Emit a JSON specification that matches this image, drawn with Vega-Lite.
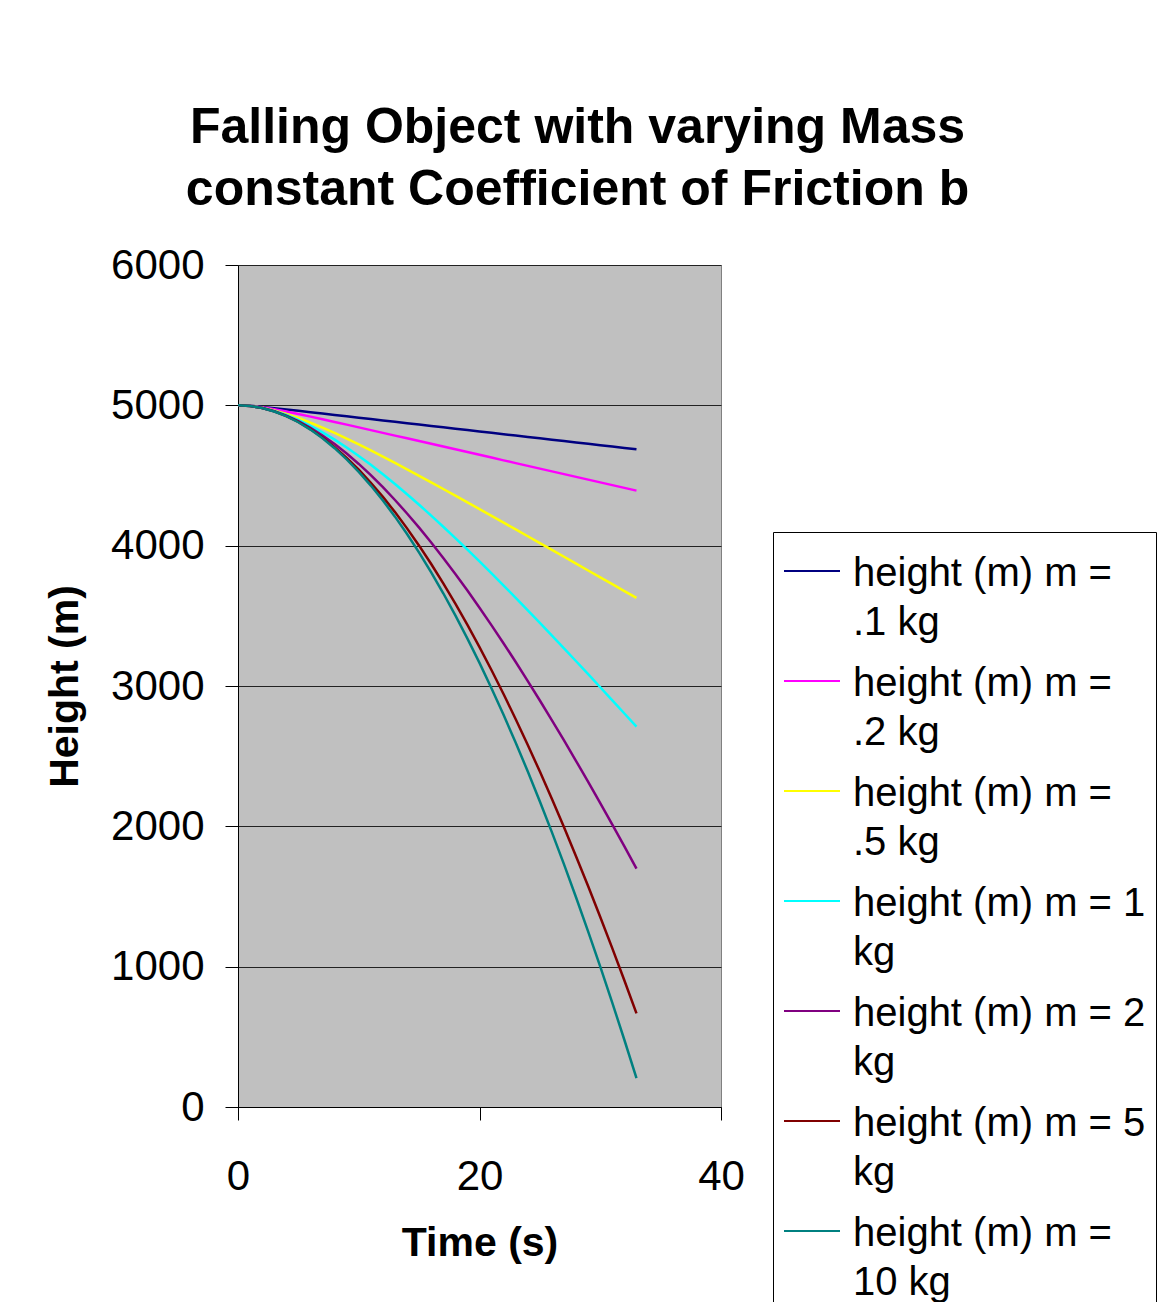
{
  "$schema": "https://vega.github.io/schema/vega-lite/v6.json",
  "width": 483,
  "height": 842,
  "autosize": {"type": "none"},
  "padding": {"left": 238, "top": 265, "right": 441, "bottom": 195},
  "background": "white",
  "title": {
    "text": ["Falling Object with varying Mass", "constant Coefficient of Friction b"],
    "font": "Liberation Sans",
    "fontSize": 50,
    "fontWeight": "bold",
    "lineHeight": 62,
    "color": "#000000",
    "anchor": "middle",
    "dx": 98,
    "offset": 29
  },
  "data": {
    "values": [
      {"t": 0, "m01": 5000, "m02": 5000, "m05": 5000, "m1": 5000, "m2": 5000, "m5": 5000, "m10": 5000},
      {"t": 1, "m01": 4996.4, "m02": 4995.8, "m05": 4995.4, "m1": 4995.3, "m2": 4995.2, "m5": 4995.1, "m10": 4995.1},
      {"t": 2, "m01": 4988.9, "m02": 4985.6, "m05": 4982.8, "m1": 4981.6, "m2": 4981.0, "m5": 4980.7, "m10": 4980.5},
      {"t": 3, "m01": 4979.9, "m02": 4971.7, "m05": 4963.5, "m1": 4960.0, "m2": 4958.0, "m5": 4956.8, "m10": 4956.3},
      {"t": 4, "m01": 4970.4, "m02": 4955.5, "m05": 4938.9, "m1": 4931.1, "m2": 4926.6, "m5": 4923.6, "m10": 4922.6},
      {"t": 5, "m01": 4960.7, "m02": 4938.0, "m05": 4909.9, "m1": 4895.6, "m2": 4887.1, "m5": 4881.5, "m10": 4879.5},
      {"t": 6, "m01": 4951.0, "m02": 4919.6, "m05": 4877.2, "m1": 4854.2, "m2": 4840.0, "m5": 4830.4, "m10": 4827.1},
      {"t": 7, "m01": 4941.2, "m02": 4900.8, "m05": 4841.6, "m1": 4807.3, "m2": 4785.6, "m5": 4770.7, "m10": 4765.4},
      {"t": 8, "m01": 4931.4, "m02": 4881.7, "m05": 4803.5, "m1": 4755.7, "m2": 4724.3, "m5": 4702.5, "m10": 4694.6},
      {"t": 9, "m01": 4921.6, "m02": 4862.4, "m05": 4763.5, "m1": 4699.6, "m2": 4656.5, "m5": 4625.9, "m10": 4614.7},
      {"t": 10, "m01": 4911.8, "m02": 4842.9, "m05": 4721.8, "m1": 4639.5, "m2": 4582.4, "m5": 4541.1, "m10": 4526.0},
      {"t": 11, "m01": 4902.0, "m02": 4823.4, "m05": 4678.9, "m1": 4575.8, "m2": 4502.4, "m5": 4448.3, "m10": 4428.3},
      {"t": 12, "m01": 4892.2, "m02": 4803.9, "m05": 4634.8, "m1": 4508.8, "m2": 4416.7, "m5": 4347.6, "m10": 4321.8},
      {"t": 13, "m01": 4882.4, "m02": 4784.3, "m05": 4589.8, "m1": 4438.9, "m2": 4325.6, "m5": 4239.2, "m10": 4206.7},
      {"t": 14, "m01": 4872.6, "m02": 4764.8, "m05": 4544.1, "m1": 4366.3, "m2": 4229.4, "m5": 4123.3, "m10": 4082.9},
      {"t": 15, "m01": 4862.8, "m02": 4745.2, "m05": 4497.8, "m1": 4291.3, "m2": 4128.3, "m5": 4000.0, "m10": 3950.6},
      {"t": 16, "m01": 4853.0, "m02": 4725.6, "m05": 4451.0, "m1": 4214.1, "m2": 4022.6, "m5": 3869.4, "m10": 3809.9},
      {"t": 17, "m01": 4843.2, "m02": 4706.0, "m05": 4403.8, "m1": 4135.0, "m2": 3912.5, "m5": 3731.6, "m10": 3660.8},
      {"t": 18, "m01": 4833.4, "m02": 4686.4, "m05": 4356.3, "m1": 4054.0, "m2": 3798.3, "m5": 3586.9, "m10": 3503.5},
      {"t": 19, "m01": 4823.6, "m02": 4666.8, "m05": 4308.5, "m1": 3971.4, "m2": 3680.0, "m5": 3435.4, "m10": 3338.0},
      {"t": 20, "m01": 4813.8, "m02": 4647.2, "m05": 4260.5, "m1": 3887.4, "m2": 3557.9, "m5": 3277.2, "m10": 3164.4},
      {"t": 21, "m01": 4804.0, "m02": 4627.6, "m05": 4212.3, "m1": 3802.0, "m2": 3432.2, "m5": 3112.4, "m10": 2982.8},
      {"t": 22, "m01": 4794.2, "m02": 4608.0, "m05": 4164.0, "m1": 3715.4, "m2": 3303.2, "m5": 2941.1, "m10": 2793.1},
      {"t": 23, "m01": 4784.4, "m02": 4588.4, "m05": 4115.5, "m1": 3627.7, "m2": 3170.8, "m5": 2763.5, "m10": 2595.7},
      {"t": 24, "m01": 4774.6, "m02": 4568.8, "m05": 4067.0, "m1": 3539.1, "m2": 3035.3, "m5": 2579.8, "m10": 2390.5},
      {"t": 25, "m01": 4764.8, "m02": 4549.2, "m05": 4018.3, "m1": 3449.6, "m2": 2896.9, "m5": 2390.0, "m10": 2177.5},
      {"t": 26, "m01": 4755.0, "m02": 4529.6, "m05": 3969.6, "m1": 3359.2, "m2": 2755.7, "m5": 2194.2, "m10": 1956.9},
      {"t": 27, "m01": 4745.2, "m02": 4510.0, "m05": 3920.9, "m1": 3268.1, "m2": 2611.8, "m5": 1992.7, "m10": 1728.9},
      {"t": 28, "m01": 4735.4, "m02": 4490.4, "m05": 3872.1, "m1": 3176.4, "m2": 2465.3, "m5": 1785.4, "m10": 1493.2},
      {"t": 29, "m01": 4725.6, "m02": 4470.8, "m05": 3823.3, "m1": 3084.1, "m2": 2316.5, "m5": 1572.5, "m10": 1250.1},
      {"t": 30, "m01": 4715.8, "m02": 4451.2, "m05": 3774.4, "m1": 2991.2, "m2": 2165.3, "m5": 1354.1, "m10": 999.8},
      {"t": 31, "m01": 4706.0, "m02": 4431.6, "m05": 3725.5, "m1": 2897.9, "m2": 2012.0, "m5": 1130.4, "m10": 742.2},
      {"t": 32, "m01": 4696.2, "m02": 4412.0, "m05": 3676.6, "m1": 2804.0, "m2": 1856.6, "m5": 901.3, "m10": 477.4},
      {"t": 33, "m01": 4686.4, "m02": 4392.4, "m05": 3627.7, "m1": 2709.9, "m2": 1699.2, "m5": 667.1, "m10": 205.4}
    ]
  },
  "transform": [
    {"fold": ["m01", "m02", "m05", "m1", "m2", "m5", "m10"], "as": ["series", "h"]}
  ],
  "mark": {"type": "line", "strokeWidth": 2.5, "clip": true},
  "encoding": {
    "x": {
      "field": "t",
      "type": "quantitative",
      "scale": {"domain": [0, 40], "nice": false, "zero": false},
      "axis": {
        "values": [0, 20, 40],
        "format": "d",
        "labelFlush": false,
        "title": "Time (s)",
        "grid": false,
        "labelPadding": 36,
        "titlePadding": 26
      }
    },
    "y": {
      "field": "h",
      "type": "quantitative",
      "scale": {"domain": [0, 6000], "nice": false},
      "axis": {
        "values": [0, 1000, 2000, 3000, 4000, 5000, 6000],
        "format": "d",
        "labelFlush": false,
        "title": "Height (m)",
        "grid": true,
        "labelPadding": 21,
        "titlePadding": 24
      }
    },
    "color": {
      "field": "series",
      "type": "nominal",
      "scale": {
        "domain": ["m01", "m02", "m05", "m1", "m2", "m5", "m10"],
        "range": ["#000080", "#FF00FF", "#FFFF00", "#00FFFF", "#800080", "#800000", "#008080"]
      },
      "legend": {
        "title": null,
        "orient": "none",
        "legendX": 535,
        "legendY": 267,
        "symbolType": "stroke",
        "symbolSize": 3136,
        "symbolStrokeWidth": 2,
        "labelFont": "Liberation Sans",
        "labelFontSize": 40,
        "labelColor": "#000000",
        "labelLimit": 500,
        "labelOffset": 12,
        "labelBaseline": "alphabetic",
        "padding": 10,
        "rowPadding": 9,
        "strokeColor": "#000000",
        "fillColor": "#FFFFFF",
        "labelExpr": "{'m01': ['height (m) m =', '.1 kg'], 'm02': ['height (m) m =', '.2 kg'], 'm05': ['height (m) m =', '.5 kg'], 'm1': ['height (m) m = 1\u00a0\u00a0\u00a0\u00a0', 'kg'], 'm2': ['height (m) m = 2', 'kg'], 'm5': ['height (m) m = 5', 'kg'], 'm10': ['height (m) m =', '10 kg']}[datum.label]",
        "encode": {
          "labels": {"update": {"dy": {"value": 15}, "lineHeight": {"value": 49}}}
        }
      }
    }
  },
  "config": {
    "font": "Liberation Sans",
    "view": {"fill": "#C0C0C0", "stroke": "#808080", "strokeWidth": 1},
    "axis": {
      "labelFont": "Liberation Sans",
      "labelFontSize": 42,
      "labelColor": "#000000",
      "titleFont": "Liberation Sans",
      "titleFontSize": 41,
      "titleFontWeight": "bold",
      "titleColor": "#000000",
      "domainColor": "#000000",
      "domainWidth": 1,
      "tickColor": "#000000",
      "tickSize": 13,
      "tickWidth": 1,
      "gridColor": "#222222",
      "gridWidth": 1
    }
  }
}
